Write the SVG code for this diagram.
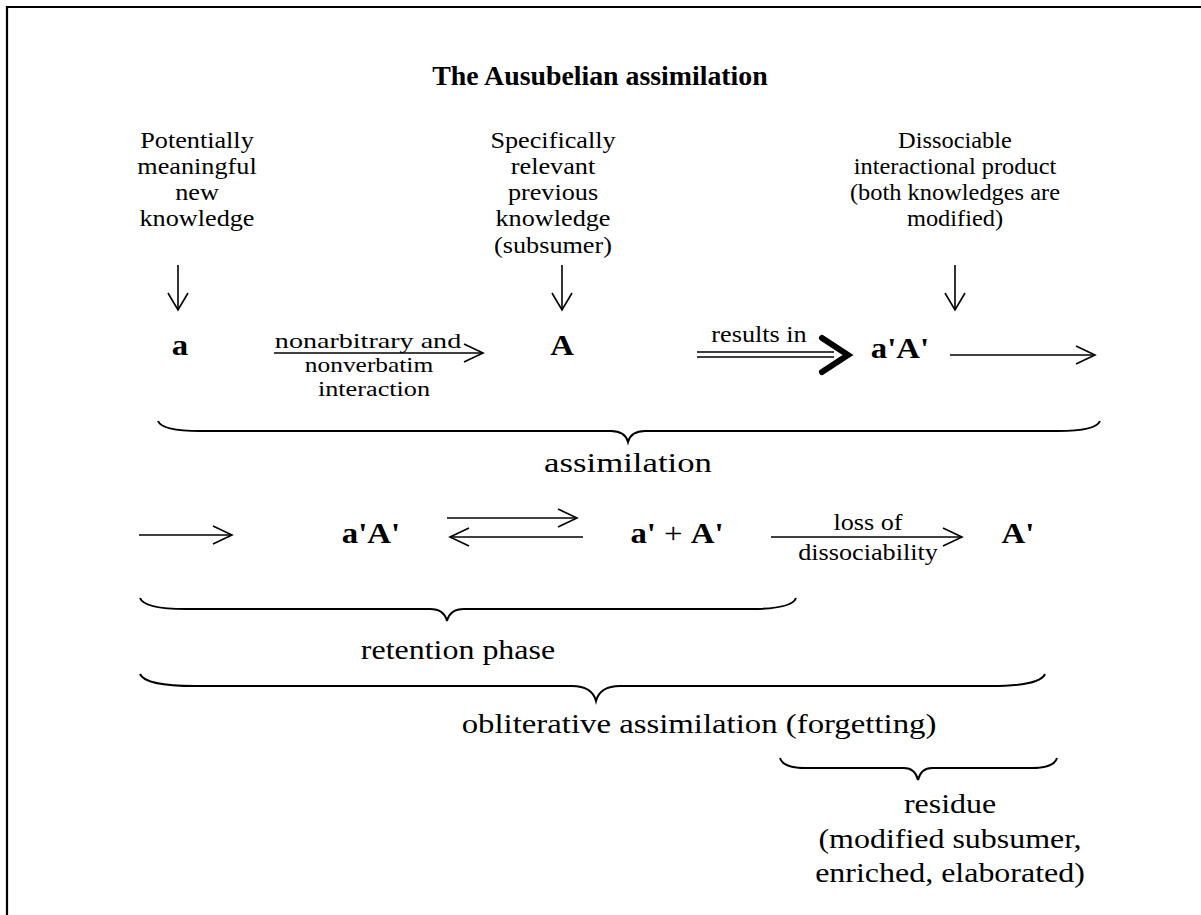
<svg xmlns="http://www.w3.org/2000/svg" width="1201" height="915" viewBox="0 0 1201 915">
<style>
text{font-family:"Liberation Serif","Times New Roman",serif;fill:#000;text-anchor:middle}
.lbl{font-size:22.8px}
.sm{font-size:20.5px}
.big{font-size:27.8px}
.b{font-size:28.5px;font-weight:bold}
.ttl{font-size:26.5px;font-weight:bold}
.ln{fill:none;stroke:#000;stroke-width:1.6}
.hd{fill:none;stroke:#000;stroke-width:1.6;stroke-linejoin:miter}
.br{fill:none;stroke:#000;stroke-width:2}
</style>
<rect width="1201" height="915" fill="#fff"/>
<path d="M7,915 V7 H1201" fill="none" stroke="#000" stroke-width="2.2"/>
<g id="title"><text class="ttl" transform="translate(600,85) scale(1.05,1)">The Ausubelian assimilation</text></g>
<g id="new-knowledge">
<text class="lbl" transform="translate(197,148) scale(1.15,1)">Potentially</text>
<text class="lbl" transform="translate(197,174) scale(1.15,1)">meaningful</text>
<text class="lbl" transform="translate(197,200) scale(1.15,1)">new</text>
<text class="lbl" transform="translate(197,226) scale(1.15,1)">knowledge</text>
</g>
<g id="previous-knowledge">
<text class="lbl" transform="translate(553,148) scale(1.15,1)">Specifically</text>
<text class="lbl" transform="translate(553,174) scale(1.15,1)">relevant</text>
<text class="lbl" transform="translate(553,200) scale(1.15,1)">previous</text>
<text class="lbl" transform="translate(553,226) scale(1.15,1)">knowledge</text>
<text class="lbl" transform="translate(553,253) scale(1.15,1)">(subsumer)</text>
</g>
<g id="product">
<text class="lbl" transform="translate(955,148) scale(1.07,1)">Dissociable</text>
<text class="lbl" transform="translate(955,174) scale(1.07,1)">interactional product</text>
<text class="lbl" transform="translate(955,200) scale(1.07,1)">(both knowledges are</text>
<text class="lbl" transform="translate(955,226) scale(1.07,1)">modified)</text>
</g>
<g id="node-a"><text class="b" transform="translate(180,355) scale(1.15,1)">a</text></g>
<g id="node-A"><text class="b" transform="translate(562,355) scale(1.15,1)">A</text></g>
<g id="node-aA1"><text class="b" transform="translate(900,358) scale(1.15,1)">a'A'</text></g>
<g id="node-aA2"><text class="b" transform="translate(371,543) scale(1.15,1)">a'A'</text></g>
<g id="node-a-plus-A"><text class="b" transform="translate(677,543) scale(1.15,1)">a'<tspan font-weight="normal"> + </tspan>A'</text></g>
<g id="node-A-final"><text class="b" transform="translate(1018,543) scale(1.15,1)">A'</text></g>
<g id="connectors">
<path class="ln" d="M178,265 V310 M562,265 V310 M955,265 V310"/>
<path class="hd" d="M168,293 L178,310 L188,293 M552,293 L562,310 L572,293 M945,293 L955,310 L965,293"/>
<path class="ln" d="M274,353 H483"/><path class="hd" d="M464,344 L483,353 L464,362"/>
<path class="ln" d="M697,352 H834 M697,357 H834"/>
<path d="M822,338 L848,355 L822,372" fill="none" stroke="#000" stroke-width="6" stroke-linecap="round" stroke-linejoin="miter"/>
<path class="ln" d="M950,355 H1095"/><path class="hd" d="M1076,346 L1095,355 L1076,364"/>
<path class="ln" d="M139,535 H232"/><path class="hd" d="M213,526 L232,535 L213,544"/>
<path class="ln" d="M447,518 H577"/><path class="hd" d="M558,509 L577,518 L558,527"/>
<path class="ln" d="M450,537 H583"/><path class="hd" d="M469,528 L450,537 L469,546"/>
<path class="ln" d="M771,537 H962"/><path class="hd" d="M943,528 L962,537 L943,546"/>
</g>
<g id="labels">
<text class="sm" transform="translate(368,348) scale(1.37,1)">nonarbitrary and</text>
<text class="sm" transform="translate(369,372) scale(1.24,1)">nonverbatim</text>
<text class="sm" transform="translate(374,396) scale(1.28,1)">interaction</text>
<text class="lbl" transform="translate(759,342) scale(1.15,1)">results in</text>
<text class="lbl" transform="translate(868,530) scale(1.15,1)">loss of</text>
<text class="lbl" transform="translate(868,560) scale(1.15,1)">dissociability</text>
</g>
<g id="brace-assimilation">
<path class="br" d="M158,421 Q162,431 200,431 L611,431 Q625,431 628,442 Q631,431 645,431 L1058,431 Q1096,431 1100,421"/>
<text class="big" transform="translate(628,472) scale(1.25,1)">assimilation</text>
</g>
<g id="brace-retention">
<path class="br" d="M140,598 Q144,609 186,609 L430,609 Q444,609 447,621 Q450,609 464,609 L750,609 Q792,609 796,598"/>
<text class="big" transform="translate(458,659) scale(1.15,1)">retention phase</text>
</g>
<g id="brace-obliterative">
<path class="br" d="M140,674 Q145,686 195,686 L572,686 Q592,686 596,701 Q600,686 620,686 L990,686 Q1040,686 1045,674"/>
<text class="big" transform="translate(699,733) scale(1.18,1)">obliterative assimilation (forgetting)</text>
</g>
<g id="brace-residue">
<path class="br" d="M780,758 Q783,768 805,768 L904,768 Q915,768 918,780 Q921,768 932,768 L1032,768 Q1054,768 1057,758"/>
<text class="big" transform="translate(950,813) scale(1.15,1)">residue</text>
<text class="big" transform="translate(950,848) scale(1.15,1)">(modified subsumer,</text>
<text class="big" transform="translate(950,882) scale(1.15,1)">enriched, elaborated)</text>
</g>
</svg>
